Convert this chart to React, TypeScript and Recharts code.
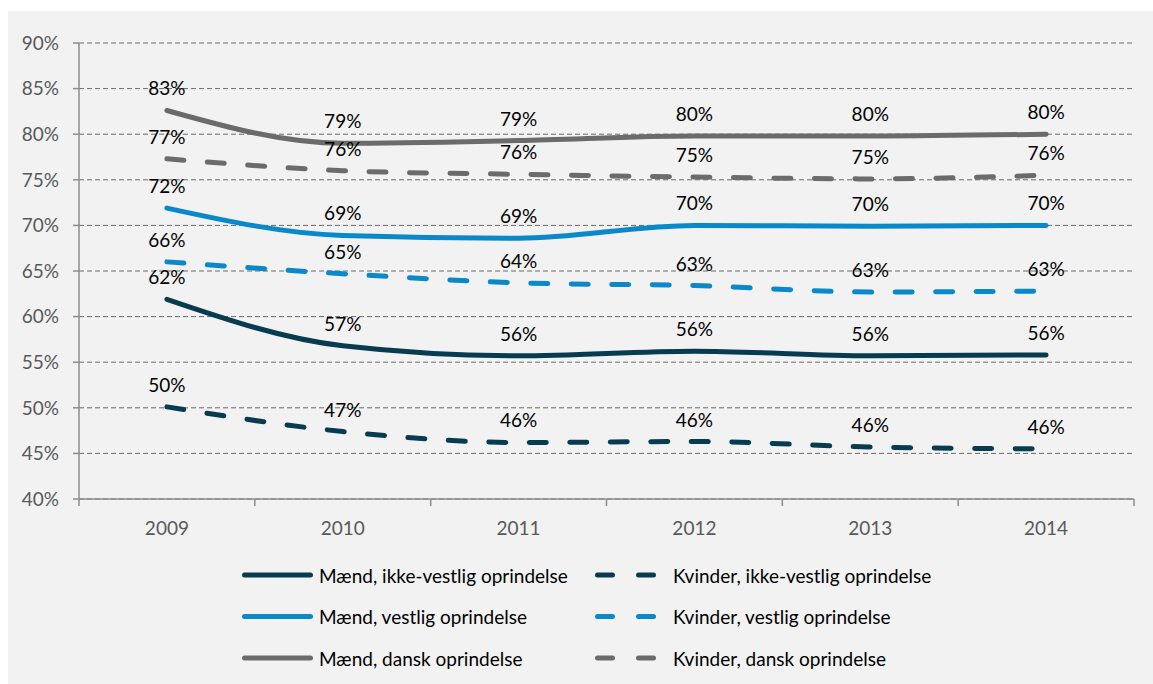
import { LineChart, Line, XAxis, YAxis, CartesianGrid, LabelList, Legend } from "recharts";

const years = ["2009", "2010", "2011", "2012", "2013", "2014"];

// andel i procent
const maendIkkeVestlig = [61.9, 56.8, 55.7, 56.2, 55.7, 55.8];
const kvinderIkkeVestlig = [50.1, 47.4, 46.2, 46.3, 45.7, 45.5];
const maendVestlig = [71.9, 68.9, 68.6, 70.0, 69.9, 70.0];
const kvinderVestlig = [66.0, 64.7, 63.7, 63.4, 62.7, 62.8];
const maendDansk = [82.6, 79.0, 79.3, 79.8, 79.8, 80.0];
const kvinderDansk = [77.3, 76.0, 75.6, 75.3, 75.1, 75.5];

const yTicks = [40, 45, 50, 55, 60, 65, 70, 75, 80, 85, 90];

const TEAL = "#073c50";
const BLUE = "#0988ca";
const GREY = "#6b6b6b";
const AXIS = "#8c8c8c";
const FONT = "Lato, 'Open Sans', sans-serif";

const series = [
  { key: "mIkke", name: "Mænd, ikke-vestlig oprindelse", color: TEAL, dashed: false, values: maendIkkeVestlig },
  { key: "kIkke", name: "Kvinder, ikke-vestlig oprindelse", color: TEAL, dashed: true, values: kvinderIkkeVestlig },
  { key: "mVest", name: "Mænd, vestlig oprindelse", color: BLUE, dashed: false, values: maendVestlig },
  { key: "kVest", name: "Kvinder, vestlig oprindelse", color: BLUE, dashed: true, values: kvinderVestlig },
  { key: "mDansk", name: "Mænd, dansk oprindelse", color: GREY, dashed: false, values: maendDansk },
  { key: "kDansk", name: "Kvinder, dansk oprindelse", color: GREY, dashed: true, values: kvinderDansk },
];

const data = years.map((year, i) => {
  const row: Record<string, string | number> = { year };
  series.forEach((s) => (row[s.key] = s.values[i]));
  return row;
});

function YearTick(props: any) {
  const { x, y, payload, index } = props;
  const half = payload.offset ?? 0;
  return (
    <g>
      <line x1={x - half} x2={x - half} y1={y} y2={y + 7} stroke={AXIS} strokeWidth={1.5} />
      {index === years.length - 1 && (
        <line x1={x + half} x2={x + half} y1={y} y2={y + 7} stroke={AXIS} strokeWidth={1.5} />
      )}
      <text x={x} y={y + 28} textAnchor="middle" dominantBaseline="central" fill="#595959" fontSize={19} fontFamily={FONT}>
        {payload.value}
      </text>
    </g>
  );
}

function LegendBox() {
  return (
    <svg width={720} height={130} style={{ display: "block" }}>
      {series.map((s, i) => {
        const col = i % 2;
        const row = Math.floor(i / 2);
        const cy = 25 + row * 41.5;
        const x1 = col === 0 ? 10.5 : 363.5;
        const x2 = col === 0 ? 76.5 : 420.5;
        const tx = col === 0 ? 85 : 439;
        return (
          <g key={s.key}>
            <line
              x1={x1}
              x2={x2}
              y1={cy}
              y2={cy}
              stroke={s.color}
              strokeWidth={5}
              strokeLinecap="round"
              strokeDasharray={s.dashed ? "15 26" : undefined}
            />
            <text x={tx} y={cy} dominantBaseline="central" fill="#000" fontSize={19} fontFamily={FONT}>
              {s.name}
            </text>
          </g>
        );
      })}
    </svg>
  );
}

export default function App() {
  return (
    <div style={{ position: "absolute", left: 8, top: 11, width: 1145, height: 673, background: "#f2f2f2" }}>
      <LineChart width={1145} height={673} data={data} margin={{ top: 32, right: 19, left: 11, bottom: 155 }}>
        <CartesianGrid vertical={false} stroke="#6a6a6a" strokeDasharray="5 3" />
        <XAxis
          dataKey="year"
          scale="band"
          height={30}
          axisLine={{ stroke: AXIS, strokeWidth: 1.5 }}
          tickLine={false}
          tickSize={0}
          tickMargin={0}
          tick={<YearTick />}
        />
        <YAxis
          width={60}
          domain={[40, 90]}
          ticks={yTicks}
          interval={0}
          axisLine={{ stroke: AXIS, strokeWidth: 1.5 }}
          tickLine={{ stroke: AXIS, strokeWidth: 1.5 }}
          tickSize={6}
          tickMargin={14}
          tick={{ fill: "#595959", fontSize: 19, fontFamily: FONT }}
          tickFormatter={(v) => `${v}%`}
        />
        <Legend
          verticalAlign="middle"
          align="center"
          layout="horizontal"
          wrapperStyle={{ left: 226, top: 539, width: 720, height: 130 }}
          content={() => <LegendBox />}
        />
        {series.map((s) => (
          <Line
            key={s.key}
            dataKey={s.key}
            name={s.name}
            type="monotone"
            stroke={s.color}
            strokeWidth={5}
            strokeLinecap="round"
            strokeDasharray={s.dashed ? "17 23.5" : undefined}
            dot={false}
            activeDot={false}
            isAnimationActive={false}
          >
            <LabelList
              dataKey={s.key}
              position="top"
              offset={15}
              fill="#000"
              fontSize={19}
              fontFamily={FONT}
              formatter={(v: any) => `${Math.round(Number(v))}%`}
            />
          </Line>
        ))}
      </LineChart>
    </div>
  );
}
